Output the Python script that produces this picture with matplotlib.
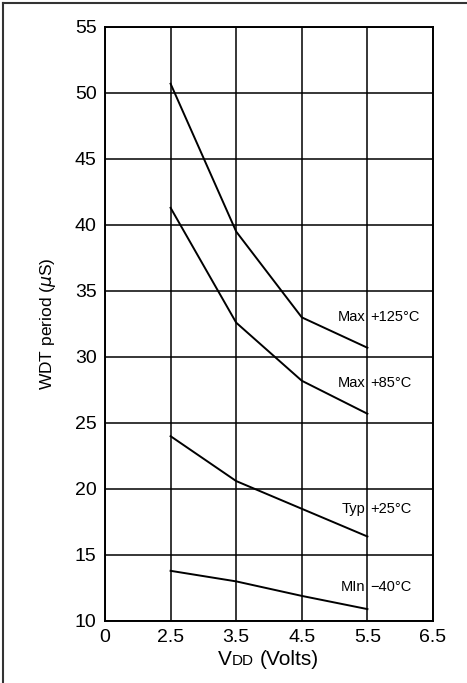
import matplotlib.pyplot as plt
from matplotlib.lines import Line2D

plt.rcParams['font.family'] = ['Liberation Sans', 'DejaVu Sans']

x_labels = ['0', '2.5', '3.5', '4.5', '5.5', '6.5']
vdd_pos = [1, 2, 3, 4]  # positions of 2.5, 3.5, 4.5, 5.5 on the evenly spaced axis

max_125 = [50.7, 39.5, 33.0, 30.7]
max_85 = [41.3, 32.6, 28.2, 25.7]
typ_25 = [24.0, 20.6, 18.5, 16.4]
min_40 = [13.8, 13.0, 11.9, 10.9]

labels = [('Max', '+125°C', 33.0), ('Max', '+85°C', 28.0),
          ('Typ', '+25°C', 18.5), ('MIn', '\u221240°C', 12.6)]

fig = plt.figure(figsize=(4.67, 6.83), dpi=100)
ax = fig.add_axes([0.2248, 0.0908, 0.7024, 0.8697])

for s in [max_125, max_85, typ_25, min_40]:
    ax.plot(vdd_pos, s, color='black', lw=1.4)

ax.set_xlim(0, 5)
ax.set_ylim(10, 55)
ax.set_xticks(range(6))
ax.set_xticklabels(x_labels)
ax.set_yticks(range(10, 56, 5))
ax.grid(True, color='black', lw=1.1)
ax.tick_params(length=0, labelsize=14, pad=6)
for sp in ax.spines.values():
    sp.set_linewidth(1.4)

for left, right, y in labels:
    ax.text(3.97, y, left, ha='right', va='center', fontsize=10.5)
    ax.text(4.05, y, right, ha='left', va='center', fontsize=10.5)

ax.set_ylabel(r'WDT period ($\mu$S)', fontsize=12.5, labelpad=12)

# x label with small-caps style subscript "DD"
fig.text(0.4968, 0.0337, 'V', fontsize=15, ha='right', va='center')
fig.text(0.4968, 0.0325, 'DD', fontsize=11, ha='left', va='center')
fig.text(0.5567, 0.0337, '(Volts)', fontsize=15, ha='left', va='center')

# outer frame (top and left edges as in the scanned figure)
fig.add_artist(Line2D([0.007, 0.007], [0, 0.995], color='#333333', lw=1.5, transform=fig.transFigure))
fig.add_artist(Line2D([0.007, 1], [0.995, 0.995], color='#333333', lw=1.5, transform=fig.transFigure))

fig.savefig('out.png', dpi=100)
